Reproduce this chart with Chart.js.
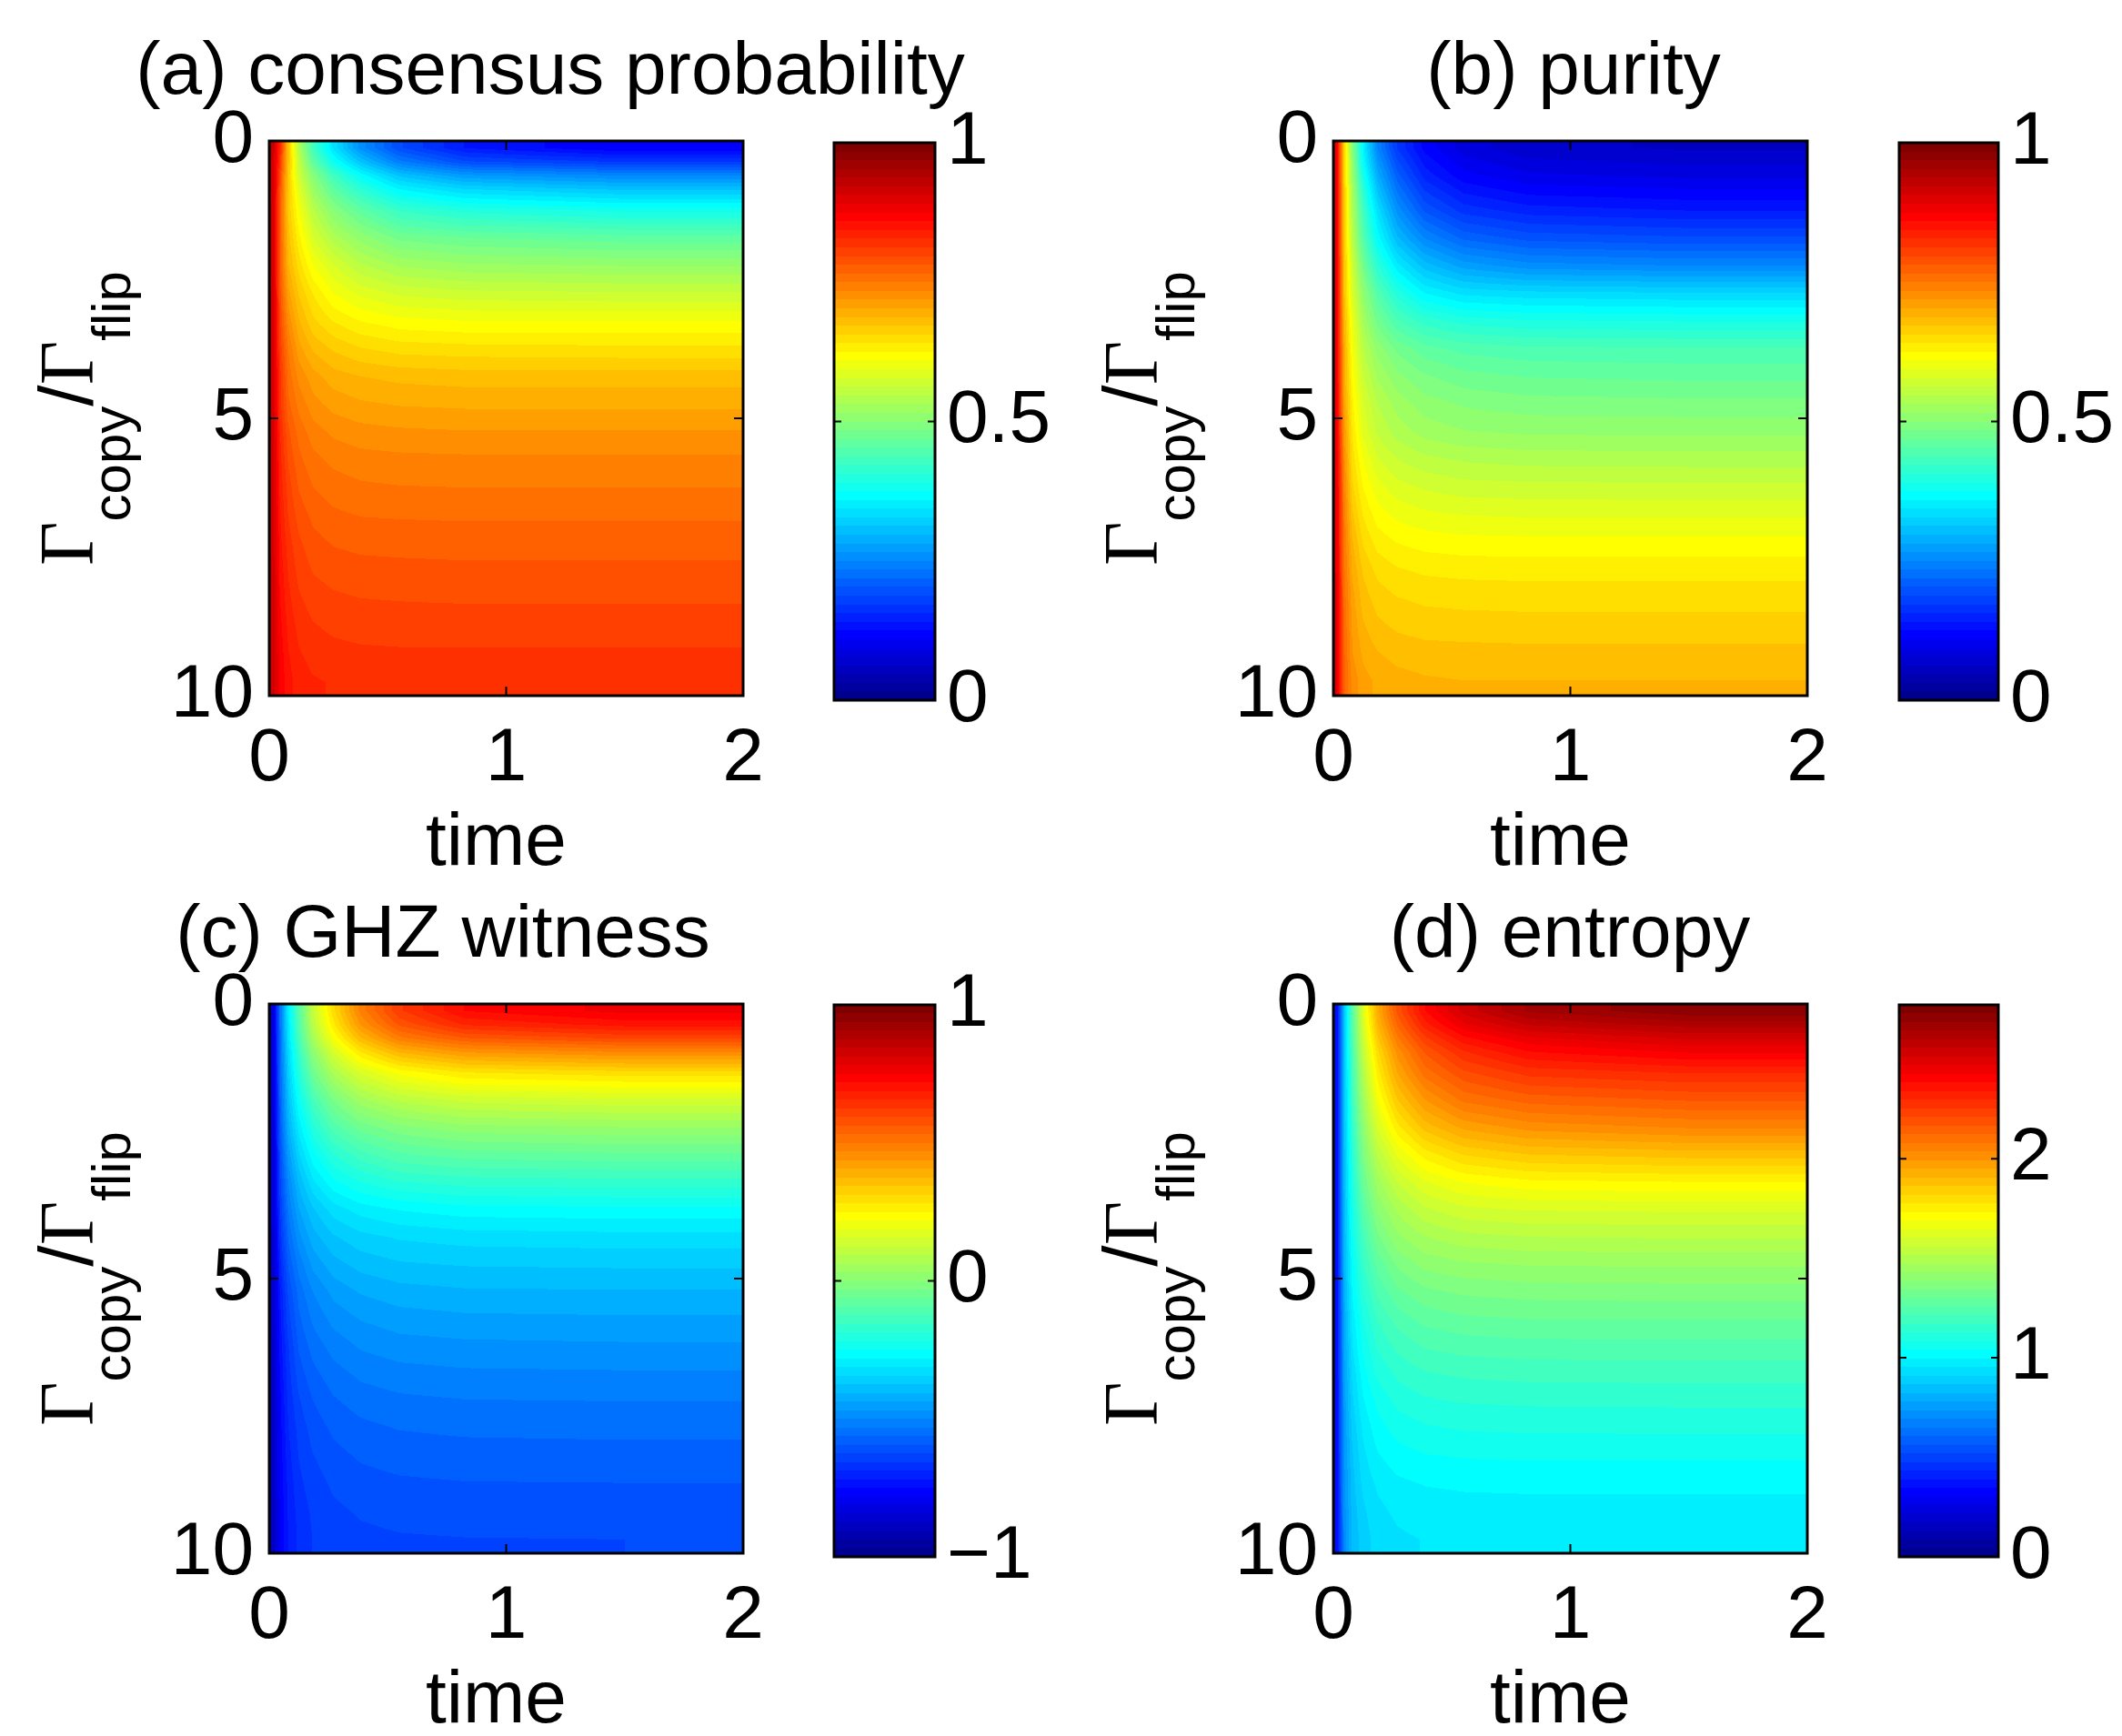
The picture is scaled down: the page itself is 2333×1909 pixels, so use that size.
<!DOCTYPE html>
<html>
<head>
<meta charset="utf-8">
<script src="https://cdn.jsdelivr.net/npm/chart.js@4.4.1/dist/chart.umd.min.js"></script>
<style>
  html, body { margin: 0; padding: 0; background: #fff; }
  body { width: 2333px; height: 1909px; position: relative; overflow: hidden; }
  canvas { position: absolute; }
</style>
</head>
<body>
<canvas id="pa"></canvas><canvas id="ca"></canvas>
<canvas id="pb"></canvas><canvas id="cb"></canvas>
<canvas id="pc"></canvas><canvas id="cc"></canvas>
<canvas id="pd"></canvas><canvas id="cd"></canvas>
<script>
// cell edges of the grid (time on x, Gamma_copy/Gamma_flip on y)
const timeEdges = [0, 0.03, 0.06, 0.1, 0.15, 0.22, 0.32, 0.45, 0.65, 1.0, 2.0];
const gammaEdges = [0, 0.25, 0.5, 0.75, 1, 1.5, 2, 2.5, 3, 3.5, 4, 4.5, 5, 5.5, 6, 6.5, 7, 7.5, 8, 8.5, 9, 9.5, 10];

const xTicks = [0, 1, 2];
const yTicks = [0, 5, 10];
const cbTicksA = [0, 0.5, 1];
const cbTicksB = [0, 0.5, 1];
const cbTicksC = [-1, 0, 1];
const cbTicksD = [0, 1, 2];

// one row per gamma cell, one value per time cell
const consensusProb = [
  [0.93, 0.83, 0.68, 0.54, 0.43, 0.34, 0.26, 0.19, 0.14, 0.11],
  [0.92, 0.82, 0.68, 0.56, 0.46, 0.38, 0.31, 0.24, 0.19, 0.17],
  [0.92, 0.80, 0.67, 0.57, 0.50, 0.43, 0.37, 0.31, 0.27, 0.25],
  [0.92, 0.79, 0.67, 0.59, 0.52, 0.46, 0.41, 0.36, 0.33, 0.31],
  [0.92, 0.78, 0.67, 0.61, 0.55, 0.50, 0.46, 0.42, 0.40, 0.385],
  [0.92, 0.78, 0.68, 0.63, 0.58, 0.54, 0.51, 0.48, 0.47, 0.46],
  [0.92, 0.78, 0.69, 0.65, 0.61, 0.58, 0.55, 0.53, 0.52, 0.515],
  [0.92, 0.79, 0.71, 0.67, 0.64, 0.61, 0.59, 0.575, 0.568, 0.565],
  [0.92, 0.80, 0.73, 0.69, 0.66, 0.64, 0.625, 0.615, 0.61, 0.61],
  [0.92, 0.81, 0.75, 0.71, 0.685, 0.67, 0.658, 0.65, 0.647, 0.645],
  [0.92, 0.82, 0.76, 0.73, 0.71, 0.695, 0.688, 0.683, 0.68, 0.68],
  [0.92, 0.82, 0.77, 0.745, 0.725, 0.713, 0.706, 0.702, 0.70, 0.70],
  [0.92, 0.83, 0.785, 0.76, 0.742, 0.731, 0.725, 0.722, 0.72, 0.72],
  [0.92, 0.835, 0.795, 0.77, 0.755, 0.746, 0.741, 0.739, 0.738, 0.738],
  [0.92, 0.84, 0.805, 0.78, 0.766, 0.758, 0.753, 0.751, 0.75, 0.75],
  [0.92, 0.845, 0.812, 0.79, 0.777, 0.769, 0.765, 0.764, 0.763, 0.763],
  [0.92, 0.85, 0.82, 0.80, 0.787, 0.780, 0.777, 0.776, 0.775, 0.775],
  [0.92, 0.855, 0.827, 0.807, 0.796, 0.79, 0.787, 0.786, 0.785, 0.785],
  [0.92, 0.86, 0.833, 0.815, 0.805, 0.80, 0.797, 0.796, 0.795, 0.795],
  [0.92, 0.865, 0.84, 0.823, 0.814, 0.809, 0.806, 0.805, 0.805, 0.805],
  [0.92, 0.87, 0.845, 0.83, 0.822, 0.818, 0.816, 0.815, 0.815, 0.815],
  [0.92, 0.872, 0.85, 0.837, 0.83, 0.827, 0.826, 0.825, 0.825, 0.825]
];

const purity = [
  [0.88, 0.66, 0.50, 0.36, 0.25, 0.17, 0.12, 0.085, 0.067, 0.06],
  [0.88, 0.66, 0.51, 0.37, 0.27, 0.19, 0.135, 0.10, 0.082, 0.075],
  [0.88, 0.66, 0.52, 0.39, 0.29, 0.21, 0.15, 0.115, 0.097, 0.09],
  [0.88, 0.67, 0.53, 0.41, 0.31, 0.23, 0.17, 0.135, 0.117, 0.11],
  [0.88, 0.67, 0.54, 0.43, 0.34, 0.26, 0.20, 0.165, 0.148, 0.14],
  [0.88, 0.67, 0.55, 0.45, 0.37, 0.30, 0.25, 0.215, 0.197, 0.19],
  [0.88, 0.68, 0.57, 0.48, 0.41, 0.35, 0.305, 0.275, 0.257, 0.25],
  [0.88, 0.68, 0.58, 0.51, 0.45, 0.40, 0.36, 0.34, 0.334, 0.33],
  [0.88, 0.69, 0.60, 0.53, 0.48, 0.44, 0.415, 0.40, 0.393, 0.39],
  [0.88, 0.70, 0.61, 0.55, 0.51, 0.48, 0.46, 0.448, 0.442, 0.44],
  [0.88, 0.70, 0.62, 0.565, 0.53, 0.505, 0.487, 0.475, 0.468, 0.465],
  [0.88, 0.71, 0.63, 0.58, 0.548, 0.525, 0.508, 0.498, 0.492, 0.49],
  [0.88, 0.72, 0.64, 0.59, 0.56, 0.54, 0.525, 0.517, 0.513, 0.512],
  [0.89, 0.73, 0.65, 0.61, 0.58, 0.563, 0.552, 0.545, 0.541, 0.54],
  [0.89, 0.74, 0.66, 0.625, 0.60, 0.585, 0.576, 0.57, 0.568, 0.567],
  [0.89, 0.745, 0.675, 0.64, 0.618, 0.605, 0.598, 0.594, 0.592, 0.592],
  [0.89, 0.75, 0.69, 0.655, 0.635, 0.625, 0.619, 0.616, 0.615, 0.615],
  [0.89, 0.755, 0.70, 0.67, 0.652, 0.643, 0.638, 0.636, 0.635, 0.635],
  [0.90, 0.76, 0.71, 0.68, 0.665, 0.657, 0.653, 0.651, 0.65, 0.65],
  [0.90, 0.765, 0.715, 0.69, 0.676, 0.669, 0.665, 0.664, 0.663, 0.663],
  [0.90, 0.77, 0.72, 0.70, 0.689, 0.682, 0.679, 0.678, 0.677, 0.677],
  [0.90, 0.77, 0.73, 0.71, 0.70, 0.694, 0.69, 0.688, 0.688, 0.688]
];

const ghzWitness = [
  [-0.85, -0.55, -0.30, -0.10, 0.12, 0.30, 0.48, 0.62, 0.72, 0.76],
  [-0.85, -0.55, -0.31, -0.11, 0.10, 0.27, 0.44, 0.57, 0.66, 0.70],
  [-0.86, -0.56, -0.32, -0.13, 0.06, 0.22, 0.37, 0.49, 0.56, 0.60],
  [-0.86, -0.56, -0.34, -0.16, 0.01, 0.15, 0.28, 0.38, 0.44, 0.47],
  [-0.86, -0.57, -0.36, -0.20, -0.05, 0.07, 0.16, 0.23, 0.28, 0.30],
  [-0.87, -0.58, -0.39, -0.25, -0.13, -0.03, 0.05, 0.10, 0.135, 0.15],
  [-0.87, -0.60, -0.42, -0.30, -0.20, -0.11, -0.05, -0.01, 0.02, 0.03],
  [-0.87, -0.62, -0.46, -0.35, -0.26, -0.19, -0.14, -0.10, -0.08, -0.07],
  [-0.87, -0.64, -0.50, -0.40, -0.32, -0.26, -0.22, -0.19, -0.175, -0.17],
  [-0.87, -0.66, -0.53, -0.44, -0.38, -0.33, -0.30, -0.28, -0.265, -0.26],
  [-0.88, -0.68, -0.56, -0.48, -0.42, -0.38, -0.355, -0.34, -0.33, -0.325],
  [-0.88, -0.70, -0.59, -0.52, -0.46, -0.42, -0.395, -0.38, -0.373, -0.37],
  [-0.88, -0.72, -0.62, -0.55, -0.50, -0.46, -0.435, -0.42, -0.412, -0.41],
  [-0.88, -0.73, -0.64, -0.57, -0.525, -0.49, -0.468, -0.453, -0.446, -0.443],
  [-0.89, -0.74, -0.66, -0.59, -0.55, -0.52, -0.497, -0.484, -0.478, -0.475],
  [-0.89, -0.75, -0.67, -0.61, -0.573, -0.545, -0.525, -0.513, -0.507, -0.505],
  [-0.89, -0.76, -0.68, -0.63, -0.595, -0.568, -0.55, -0.54, -0.534, -0.532],
  [-0.89, -0.765, -0.69, -0.645, -0.612, -0.588, -0.572, -0.562, -0.557, -0.555],
  [-0.90, -0.77, -0.70, -0.655, -0.627, -0.605, -0.59, -0.581, -0.577, -0.575],
  [-0.90, -0.775, -0.71, -0.665, -0.64, -0.62, -0.607, -0.60, -0.596, -0.595],
  [-0.90, -0.78, -0.715, -0.675, -0.65, -0.632, -0.622, -0.616, -0.613, -0.612],
  [-0.90, -0.78, -0.72, -0.68, -0.655, -0.64, -0.632, -0.628, -0.626, -0.625]
];

const entropy = [
  [0.35, 0.85, 1.25, 1.62, 1.93, 2.18, 2.38, 2.53, 2.65, 2.72],
  [0.35, 0.85, 1.24, 1.60, 1.90, 2.13, 2.32, 2.46, 2.56, 2.62],
  [0.35, 0.85, 1.23, 1.57, 1.85, 2.07, 2.24, 2.37, 2.46, 2.52],
  [0.35, 0.85, 1.22, 1.54, 1.80, 2.01, 2.17, 2.29, 2.38, 2.43],
  [0.35, 0.85, 1.20, 1.50, 1.75, 1.95, 2.10, 2.20, 2.27, 2.30],
  [0.35, 0.85, 1.18, 1.45, 1.68, 1.86, 1.99, 2.09, 2.14, 2.17],
  [0.35, 0.85, 1.15, 1.40, 1.60, 1.76, 1.88, 1.96, 2.01, 2.04],
  [0.35, 0.84, 1.12, 1.35, 1.52, 1.65, 1.75, 1.82, 1.86, 1.88],
  [0.35, 0.84, 1.10, 1.30, 1.45, 1.56, 1.64, 1.69, 1.72, 1.73],
  [0.35, 0.83, 1.07, 1.25, 1.39, 1.48, 1.55, 1.59, 1.605, 1.61],
  [0.35, 0.82, 1.05, 1.20, 1.33, 1.42, 1.47, 1.50, 1.515, 1.52],
  [0.35, 0.81, 1.02, 1.16, 1.27, 1.35, 1.40, 1.42, 1.432, 1.435],
  [0.35, 0.80, 1.00, 1.12, 1.22, 1.29, 1.33, 1.35, 1.36, 1.365],
  [0.35, 0.78, 0.97, 1.08, 1.17, 1.23, 1.27, 1.29, 1.298, 1.30],
  [0.35, 0.77, 0.95, 1.05, 1.13, 1.18, 1.215, 1.23, 1.238, 1.24],
  [0.35, 0.76, 0.92, 1.02, 1.09, 1.135, 1.163, 1.177, 1.183, 1.185],
  [0.35, 0.75, 0.90, 0.99, 1.05, 1.095, 1.117, 1.128, 1.133, 1.135],
  [0.35, 0.74, 0.88, 0.96, 1.02, 1.055, 1.075, 1.085, 1.089, 1.09],
  [0.35, 0.73, 0.86, 0.94, 0.99, 1.02, 1.035, 1.042, 1.045, 1.045],
  [0.35, 0.72, 0.85, 0.92, 0.96, 0.985, 0.998, 1.003, 1.005, 1.005],
  [0.35, 0.71, 0.84, 0.90, 0.94, 0.962, 0.973, 0.978, 0.98, 0.98],
  [0.35, 0.70, 0.83, 0.89, 0.925, 0.945, 0.955, 0.958, 0.96, 0.96]
];

const FONT = '"Liberation Sans", Arial, Helvetica, sans-serif';
const FS = 82;

// MATLAB jet(64)
function jetRGB(k) {
  const i = k + 1;
  const u = j => (j < 1 || j > 47) ? 0 : (j <= 16 ? j / 16 : (j <= 31 ? 1 : (48 - j) / 16));
  return [u(i - 24), u(i - 8), u(i + 8)].map(c => Math.round(c * 255));
}
const jet = Array.from({ length: 64 }, (_, k) => jetRGB(k));
function jetColor(k) { const c = jet[k]; return 'rgb(' + c[0] + ',' + c[1] + ',' + c[2] + ')'; }
function levelOf(v, min, max) {
  const k = Math.floor((v - min) / (max - min) * 64);
  return Math.max(0, Math.min(63, k));
}

function buildCells(values) {
  const cells = [];
  for (let r = 0; r < gammaEdges.length - 1; r++) {
    for (let c = 0; c < timeEdges.length - 1; c++) {
      cells.push({
        x: (timeEdges[c] + timeEdges[c + 1]) / 2,
        y: (gammaEdges[r] + gammaEdges[r + 1]) / 2,
        row: r, col: c,
        v: values[r][c]
      });
    }
  }
  return cells;
}

function bracket(arr, v) {
  const n = arr.length - 1;
  if (v <= arr[0]) return [0, 0, 0];
  if (v >= arr[n]) return [n, n, 0];
  let i = 0;
  while (arr[i + 1] < v) i++;
  return [i, i + 1, (v - arr[i]) / (arr[i + 1] - arr[i])];
}

function drawYLabel(ctx, cx, cy) {
  const parts = [
    { t: 'Γ', f: '84px "Liberation Serif", serif', dy: 0 },
    { t: 'copy', f: '60px ' + FONT, dy: 41 },
    { t: '/', f: '84px ' + FONT, dy: 0 },
    { t: 'Γ', f: '84px "Liberation Serif", serif', dy: 0 },
    { t: 'flip', f: '60px ' + FONT, dy: 41 }
  ];
  ctx.save();
  ctx.translate(cx, cy);
  ctx.rotate(-Math.PI / 2);
  ctx.fillStyle = '#000';
  ctx.textBaseline = 'alphabetic';
  ctx.textAlign = 'left';
  let total = 0;
  parts.forEach(p => { ctx.font = p.f; p.w = ctx.measureText(p.t).width; total += p.w; });
  let x = -total / 2;
  parts.forEach(p => { ctx.font = p.f; ctx.fillText(p.t, x, p.dy); x += p.w; });
  ctx.restore();
}

// shaded heat map (shading interp style) coloured with jet(64)
const heatmapPlugin = {
  id: 'heatmap',
  beforeDatasetsDraw(chart) {
    const o = chart.options.plugins.heatmap;
    const ctx = chart.ctx, a = chart.chartArea, xs = chart.scales.x, ys = chart.scales.y;
    const cells = chart.data.datasets[0].data;
    const nc = timeEdges.length - 1;
    const tc = cells.filter(c => c.row === 0).map(c => c.x);
    const gc = cells.filter(c => c.col === 0).map(c => c.y);
    const val = (r, c) => cells[r * nc + c].v;
    const x0 = Math.round(a.left), x1 = Math.round(a.right);
    const y0 = Math.round(a.top), y1 = Math.round(a.bottom);
    const W = x1 - x0, H = y1 - y0;
    const img = ctx.createImageData(W, H);
    const colB = [];
    for (let px = 0; px < W; px++) colB.push(bracket(tc, xs.getValueForPixel(x0 + px + 0.5)));
    for (let py = 0; py < H; py++) {
      const [r0, r1, fy] = bracket(gc, ys.getValueForPixel(y0 + py + 0.5));
      for (let px = 0; px < W; px++) {
        const [c0, c1, fx] = colB[px];
        const top = val(r0, c0) * (1 - fx) + val(r0, c1) * fx;
        const bot = val(r1, c0) * (1 - fx) + val(r1, c1) * fx;
        const v = top * (1 - fy) + bot * fy;
        const rgb = jet[levelOf(v, o.min, o.max)];
        const idx = (py * W + px) * 4;
        img.data[idx] = rgb[0]; img.data[idx + 1] = rgb[1]; img.data[idx + 2] = rgb[2]; img.data[idx + 3] = 255;
      }
    }
    ctx.putImageData(img, x0, y0);
  },
  afterDraw(chart) {
    const o = chart.options.plugins.heatmap;
    const ctx = chart.ctx, a = chart.chartArea, xs = chart.scales.x, ys = chart.scales.y;
    ctx.save();
    ctx.strokeStyle = '#000';
    ctx.lineWidth = 3;
    ctx.strokeRect(a.left, a.top, a.right - a.left, a.bottom - a.top);
    ctx.lineWidth = 2;
    ctx.beginPath();
    xTicks.forEach(t => {
      const px = xs.getPixelForValue(t);
      ctx.moveTo(px, a.bottom); ctx.lineTo(px, a.bottom - 10);
      ctx.moveTo(px, a.top); ctx.lineTo(px, a.top + 10);
    });
    yTicks.forEach(t => {
      const py = ys.getPixelForValue(t);
      ctx.moveTo(a.left, py); ctx.lineTo(a.left + 10, py);
      ctx.moveTo(a.right, py); ctx.lineTo(a.right - 10, py);
    });
    ctx.stroke();
    ctx.fillStyle = '#000';
    ctx.font = FS + 'px ' + FONT;
    ctx.textAlign = 'center';
    ctx.textBaseline = 'alphabetic';
    ctx.fillText(o.title, a.left + o.titleDx, a.top - 52);
    ctx.fillText('time', (a.left + a.right) / 2 - 11, a.bottom + 186);
    ctx.restore();
    drawYLabel(ctx, a.left - 194, (a.top + a.bottom) / 2);
  }
};

const colorbarPlugin = {
  id: 'colorbar',
  beforeDatasetsDraw(chart) {
    const o = chart.options.plugins.colorbar;
    const ctx = chart.ctx, a = chart.chartArea, ys = chart.scales.y;
    ctx.save();
    for (let k = 0; k < 64; k++) {
      const v0 = o.min + (o.max - o.min) * k / 64, v1 = o.min + (o.max - o.min) * (k + 1) / 64;
      const y0 = Math.round(ys.getPixelForValue(v0)), y1 = Math.round(ys.getPixelForValue(v1));
      ctx.fillStyle = jetColor(k);
      ctx.fillRect(a.left, y1, a.right - a.left, y0 - y1);
    }
    ctx.restore();
  },
  afterDraw(chart) {
    const o = chart.options.plugins.colorbar;
    const ctx = chart.ctx, a = chart.chartArea, ys = chart.scales.y;
    ctx.save();
    ctx.strokeStyle = '#000';
    ctx.lineWidth = 3;
    ctx.strokeRect(a.left, a.top, a.right - a.left, a.bottom - a.top);
    ctx.lineWidth = 2;
    ctx.beginPath();
    o.ticks.forEach(t => {
      const py = ys.getPixelForValue(t);
      ctx.moveTo(a.left, py); ctx.lineTo(a.left + 8, py);
      ctx.moveTo(a.right, py); ctx.lineTo(a.right - 8, py);
    });
    ctx.stroke();
    ctx.restore();
  }
};

function place(id, left, top, w, h) {
  const cv = document.getElementById(id);
  cv.width = w; cv.height = h;
  cv.style.left = left + 'px'; cv.style.top = top + 'px';
  cv.style.width = w + 'px'; cv.style.height = h + 'px';
  return cv;
}

function makePanel(p) {
  const YW = 296, PT = 155, XH = 200, PR = 300;
  const w = YW + (p.R - p.L) + PR, h = PT + (p.B - p.T) + XH;
  const cv = place(p.id, p.L - YW, p.T - PT, w, h);
  new Chart(cv, {
    type: 'scatter',
    data: { datasets: [{ data: buildCells(p.values), pointRadius: 0, pointHoverRadius: 0 }] },
    options: {
      responsive: false,
      animation: false,
      devicePixelRatio: 1,
      layout: { padding: { top: PT, right: PR, left: 0, bottom: 0 } },
      plugins: {
        legend: { display: false },
        tooltip: { enabled: false },
        heatmap: { min: p.min, max: p.max, title: p.title, titleDx: p.titleDx }
      },
      scales: {
        x: {
          type: 'linear', min: 0, max: 2,
          afterBuildTicks: s => { s.ticks = xTicks.map(v => ({ value: v })); },
          afterFit: s => { s.height = XH; },
          grid: { display: false }, border: { display: false },
          ticks: { color: '#000', font: { family: FONT, size: FS }, padding: 13, maxRotation: 0 }
        },
        y: {
          type: 'linear', min: 0, max: 10, reverse: true,
          afterBuildTicks: s => { s.ticks = yTicks.map(v => ({ value: v })); },
          afterFit: s => { s.width = YW; },
          grid: { display: false }, border: { display: false },
          ticks: { color: '#000', font: { family: FONT, size: FS }, padding: 9 }
        }
      }
    },
    plugins: [heatmapPlugin]
  });
}

function makeColorbar(c) {
  const PL = 20, PT = 80, PB = 80, YW = 220;
  const w = PL + (c.R - c.L) + YW, h = PT + (c.B - c.T) + PB;
  const cv = place(c.id, c.L - PL, c.T - PT, w, h);
  new Chart(cv, {
    type: 'scatter',
    data: { datasets: [{ data: [], pointRadius: 0 }] },
    options: {
      responsive: false,
      animation: false,
      devicePixelRatio: 1,
      layout: { padding: { top: PT, bottom: PB, left: PL, right: 0 } },
      plugins: {
        legend: { display: false },
        tooltip: { enabled: false },
        colorbar: { min: c.min, max: c.max, ticks: c.ticks }
      },
      scales: {
        x: { display: false, min: 0, max: 1 },
        y: {
          type: 'linear', position: 'right', min: c.min, max: c.max,
          afterBuildTicks: s => { s.ticks = c.ticks.map(v => ({ value: v })); },
          afterFit: s => { s.width = YW; },
          grid: { display: false }, border: { display: false },
          ticks: {
            color: '#000', font: { family: FONT, size: FS }, padding: 5,
            callback: v => (v < 0 ? '\u2212' + Math.abs(v) : String(v))
          }
        }
      }
    },
    plugins: [colorbarPlugin]
  });
}

makePanel({ id: 'pa', L: 296, T: 155, R: 817, B: 765, title: '(a) consensus probability', titleDx: 309, values: consensusProb, min: 0, max: 1 });
makePanel({ id: 'pb', L: 1466, T: 155, R: 1987, B: 765, title: '(b) purity', titleDx: 264, values: purity, min: 0, max: 1 });
makePanel({ id: 'pc', L: 296, T: 1104, R: 817, B: 1708, title: '(c) GHZ witness', titleDx: 191, values: ghzWitness, min: -1, max: 1 });
makePanel({ id: 'pd', L: 1466, T: 1104, R: 1987, B: 1708, title: '(d) entropy', titleDx: 260, values: entropy, min: 0, max: 2.7726 });

makeColorbar({ id: 'ca', L: 917, R: 1028, T: 157, B: 770, min: 0, max: 1, ticks: cbTicksA });
makeColorbar({ id: 'cb', L: 2088, R: 2197, T: 157, B: 770, min: 0, max: 1, ticks: cbTicksB });
makeColorbar({ id: 'cc', L: 917, R: 1028, T: 1105, B: 1712, min: -1, max: 1, ticks: cbTicksC });
makeColorbar({ id: 'cd', L: 2088, R: 2197, T: 1105, B: 1712, min: 0, max: 2.7726, ticks: cbTicksD });
</script>
</body>
</html>
